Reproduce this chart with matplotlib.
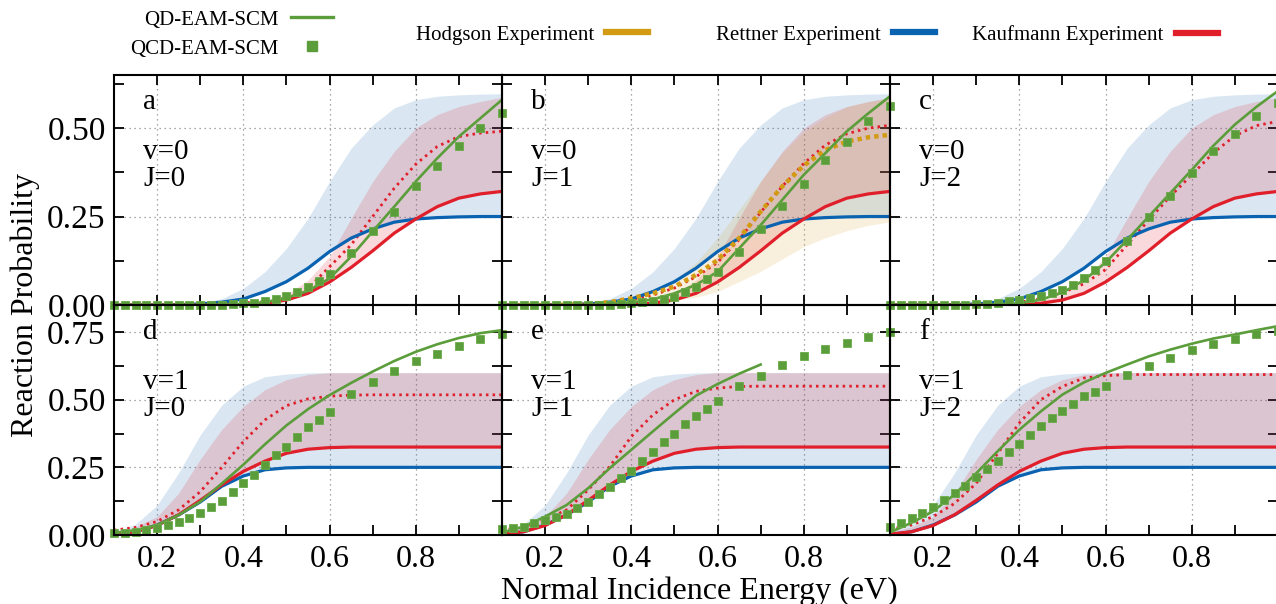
import numpy as np
import matplotlib.pyplot as plt
from matplotlib.lines import Line2D

plt.rcParams['font.family'] = 'Liberation Serif'

# incidence energies (eV) for the smooth curves and for the QCD points
E = [0.10, 0.15, 0.20, 0.25, 0.30, 0.35, 0.40, 0.45, 0.50, 0.55,
     0.60, 0.65, 0.70, 0.75, 0.80, 0.85, 0.90, 0.95, 1.00]
EQ = [0.100, 0.125, 0.150, 0.175, 0.200, 0.225, 0.250, 0.275, 0.300, 0.325,
      0.350, 0.375, 0.400, 0.425, 0.450, 0.475, 0.500, 0.525, 0.550, 0.575,
      0.600, 0.65, 0.70, 0.75, 0.80, 0.85, 0.90, 0.95, 1.00]

# experimental fits, v=0
rettner_v0 = [0, 0, 0, 0.001, 0.003, 0.008, 0.017, 0.038, 0.066, 0.104,
              0.151, 0.189, 0.215, 0.234, 0.243, 0.247, 0.249, 0.25, 0.25]
rettner_v0_hi = [0, 0, 0, 0.001, 0.005, 0.018, 0.047, 0.094, 0.16, 0.245,
                 0.349, 0.443, 0.509, 0.557, 0.58, 0.59, 0.594, 0.596, 0.597]
kaufmann_v0 = [0, 0, 0, 0, 0, 0, 0.001, 0.005, 0.014, 0.033,
               0.065, 0.106, 0.153, 0.203, 0.243, 0.278, 0.302, 0.314, 0.321]
kaufmann_v0_hi = [0, 0, 0, 0, 0, 0.001, 0.004, 0.012, 0.03, 0.07,
                  0.137, 0.245, 0.349, 0.434, 0.5, 0.538, 0.561, 0.575, 0.587]
hodgson_b = [0, 0, 0, 0.001, 0.003, 0.008, 0.019, 0.033, 0.052, 0.085,
             0.127, 0.189, 0.264, 0.335, 0.394, 0.438, 0.462, 0.474, 0.481]
hodgson_b_lo = [0, 0, 0, 0, 0.001, 0.002, 0.003, 0.007, 0.013, 0.022,
                0.038, 0.066, 0.095, 0.13, 0.165, 0.19, 0.21, 0.225, 0.235]
hodgson_b_hi = [0, 0, 0, 0.002, 0.005, 0.01, 0.02, 0.04, 0.07, 0.12,
                0.19, 0.27, 0.35, 0.43, 0.49, 0.53, 0.56, 0.575, 0.585]

# experimental fits, v=1
rettner_v1 = [0.002, 0.012, 0.037, 0.074, 0.122, 0.18, 0.218, 0.241, 0.248, 0.25,
              0.25, 0.25, 0.25, 0.25, 0.25, 0.25, 0.25, 0.25, 0.25]
rettner_v1_hi = [0.01, 0.04, 0.11, 0.23, 0.37, 0.48, 0.55, 0.585, 0.595, 0.599,
                 0.6, 0.6, 0.6, 0.6, 0.6, 0.6, 0.6, 0.6, 0.6]
kaufmann_v1 = [0.003, 0.012, 0.035, 0.075, 0.128, 0.185, 0.235, 0.273, 0.302, 0.317,
               0.323, 0.325, 0.325, 0.325, 0.325, 0.325, 0.325, 0.325, 0.325]
kaufmann_v1_hi = [0.01, 0.03, 0.068, 0.155, 0.28, 0.39, 0.475, 0.537, 0.574, 0.593,
                  0.6, 0.6, 0.6, 0.6, 0.6, 0.6, 0.6, 0.6, 0.6]

# Kaufmann state-resolved (dotted)
kdot_a = [0, 0, 0, 0, 0, 0.002, 0.006, 0.01, 0.019, 0.047,
          0.108, 0.17, 0.25, 0.33, 0.398, 0.448, 0.476, 0.486, 0.491]
kdot_b = [0, 0, 0, 0.001, 0.003, 0.007, 0.015, 0.028, 0.048, 0.08,
          0.12, 0.185, 0.262, 0.335, 0.4, 0.452, 0.484, 0.5, 0.508]
kdot_c = [0, 0, 0, 0, 0.001, 0.003, 0.008, 0.018, 0.035, 0.06,
          0.1, 0.17, 0.24, 0.307, 0.368, 0.43, 0.478, 0.507, 0.519]
kdot_d = [0.018, 0.028, 0.05, 0.093, 0.16, 0.25, 0.345, 0.425, 0.478, 0.503,
          0.513, 0.517, 0.518, 0.518, 0.518, 0.518, 0.518, 0.518, 0.518]
kdot_e = [0.018, 0.03, 0.056, 0.093, 0.167, 0.253, 0.364, 0.444, 0.5, 0.531,
          0.543, 0.549, 0.55, 0.55, 0.55, 0.55, 0.55, 0.55, 0.55]
kdot_f = [0.021, 0.037, 0.068, 0.117, 0.191, 0.302, 0.414, 0.5, 0.549, 0.58,
          0.589, 0.593, 0.593, 0.593, 0.593, 0.593, 0.593, 0.593, 0.593]

# QD-EAM-SCM (lines)
qd_a = [0, 0, 0, 0, 0, 0.001, 0.003, 0.008, 0.02, 0.04,
        0.075, 0.137, 0.208, 0.278, 0.349, 0.415, 0.476, 0.528, 0.58]
qd_b = [0, 0, 0, 0, 0, 0.002, 0.007, 0.016, 0.033, 0.057,
        0.094, 0.16, 0.226, 0.297, 0.368, 0.429, 0.491, 0.542, 0.59]
qd_c = [0, 0, 0, 0, 0, 0.002, 0.005, 0.015, 0.035, 0.07,
        0.12, 0.184, 0.25, 0.316, 0.382, 0.45, 0.51, 0.56, 0.605]
qd_d = [0.008, 0.017, 0.037, 0.074, 0.123, 0.19, 0.26, 0.335, 0.405, 0.465,
        0.517, 0.562, 0.604, 0.643, 0.677, 0.705, 0.728, 0.746, 0.757]
qd_e = [0.009, 0.031, 0.068, 0.111, 0.173, 0.247, 0.315, 0.383, 0.45, 0.515,
        0.558, 0.596, 0.63]
qd_f = [0.01, 0.045, 0.088, 0.15, 0.228, 0.31, 0.389, 0.457, 0.519, 0.564,
        0.599, 0.63, 0.66, 0.685, 0.707, 0.726, 0.741, 0.757, 0.772]

# QCD-EAM-SCM (points)
qcd_a = [0, 0, 0, 0, 0, 0, 0, 0, 0, 0,
         0, 0.003, 0.005, 0.007, 0.011, 0.017, 0.026, 0.038, 0.051, 0.069,
         0.087, 0.146, 0.208, 0.264, 0.335, 0.394, 0.45, 0.5, 0.542]
qcd_b = [0, 0, 0, 0, 0, 0, 0, 0, 0, 0,
         0, 0.003, 0.005, 0.008, 0.012, 0.017, 0.024, 0.036, 0.052, 0.074,
         0.094, 0.151, 0.215, 0.28, 0.342, 0.41, 0.462, 0.519, 0.563]
qcd_c = [0, 0, 0, 0, 0, 0, 0, 0.001, 0.002, 0.004,
         0.007, 0.01, 0.014, 0.019, 0.025, 0.033, 0.042, 0.057, 0.075, 0.099,
         0.123, 0.181, 0.25, 0.308, 0.373, 0.434, 0.484, 0.533, 0.571]
qcd_d = [0.006, 0.008, 0.01, 0.019, 0.027, 0.037, 0.049, 0.062, 0.083, 0.105,
         0.127, 0.16, 0.191, 0.22, 0.259, 0.294, 0.327, 0.362, 0.398, 0.426,
         0.453, 0.521, 0.564, 0.605, 0.644, 0.669, 0.7, 0.725, 0.741]
qcd_e = [0.021, 0.025, 0.031, 0.043, 0.056, 0.065, 0.078, 0.099, 0.123, 0.151,
         0.179, 0.21, 0.235, 0.272, 0.306, 0.342, 0.374, 0.41, 0.438, 0.467,
         0.496, 0.549, 0.589, 0.63, 0.66, 0.689, 0.709, 0.732, 0.749]
qcd_f = [0.028, 0.043, 0.062, 0.08, 0.102, 0.13, 0.154, 0.181, 0.214, 0.244,
         0.275, 0.305, 0.337, 0.37, 0.401, 0.432, 0.46, 0.485, 0.512, 0.53,
         0.552, 0.593, 0.623, 0.654, 0.683, 0.707, 0.723, 0.741, 0.753]

letters = ['a', 'b', 'c', 'd', 'e', 'f']
states = ['v=0\nJ=0', 'v=0\nJ=1', 'v=0\nJ=2', 'v=1\nJ=0', 'v=1\nJ=1', 'v=1\nJ=2']
qd_all = [qd_a, qd_b, qd_c, qd_d, qd_e, qd_f]
qcd_all = [qcd_a, qcd_b, qcd_c, qcd_d, qcd_e, qcd_f]
kdot_all = [kdot_a, kdot_b, kdot_c, kdot_d, kdot_e, kdot_f]

GREEN = '#5b9d3a'
BLUE = '#0a63b1'
RED = '#e01f2b'
GOLD = '#d29b12'

W, H = 1276, 604
fig = plt.figure(figsize=(W / 100, H / 100), dpi=100)


def box(x, y, w, h):
    return [x / W, 1 - (y + h) / H, w / W, h / H]


for i in range(6):
    row, col = divmod(i, 3)
    ax = fig.add_axes(box(114 + 388 * col, 75 + 230 * row, 388, 230))
    ax.set_facecolor('none')
    ax.set_axisbelow(True)
    if row == 0:
        ret, ret_hi, kau, kau_hi = rettner_v0, rettner_v0_hi, kaufmann_v0, kaufmann_v0_hi
    else:
        ret, ret_hi, kau, kau_hi = rettner_v1, rettner_v1_hi, kaufmann_v1, kaufmann_v1_hi

    # uncertainty bands
    ax.fill_between(E, ret, ret_hi, color=BLUE, alpha=0.15, lw=0, zorder=1)
    ax.fill_between(E, kau, kau_hi, color=RED, alpha=0.17, lw=0, zorder=1.1)
    if i == 1:
        ax.fill_between(E, hodgson_b_lo, hodgson_b_hi, color=GOLD, alpha=0.14, lw=0, zorder=1.2)

    ax.plot(E, kdot_all[i], color=RED, lw=2, ls=(0, (0.9, 1.5)), zorder=2.0)
    ax.plot(E, ret, color=BLUE, lw=2.3, zorder=2.05)
    ax.plot(E, kau, color=RED, lw=2.3, zorder=2.05)
    if i == 1:
        ax.plot(E, hodgson_b, color=GOLD, lw=3.2, ls=(0, (1, 0.9)),
                dash_capstyle='butt', zorder=2.1)
    ax.plot(E[:len(qd_all[i])], qd_all[i], color=GREEN, lw=1.9, zorder=2.15)
    ax.plot(EQ, qcd_all[i], 's', color=GREEN, ms=6, mec='#6aab48', mew=0.6,
            clip_on=False, zorder=2.2)

    ax.set_xlim(0.1, 1.0)
    ax.set_xticks([0.2, 0.4, 0.6, 0.8])
    ax.set_xticks([0.1, 0.3, 0.5, 0.7, 0.9, 1.0], minor=True)
    if row == 0:
        ax.set_ylim(0, 0.65)
        ax.set_yticks([0, 0.25, 0.5])
    else:
        ax.set_ylim(0, 0.85)
        ax.set_yticks([0, 0.25, 0.5, 0.75])
    ax.set_yticks([0.125, 0.375, 0.625], minor=True)
    ax.tick_params(which='both', direction='in', top=True, right=True,
                   length=7, width=1.3, labelsize=24, pad=6)
    ax.tick_params(axis='x', labelsize=23, pad=7)
    if row == 0:
        ax.tick_params(axis='x', labelbottom=False)
    if col != 0:
        ax.tick_params(axis='y', labelleft=False)
    ax.yaxis.set_major_formatter(plt.FormatStrFormatter('%.2f'))
    ax.grid(True, which='major', ls=(0, (1, 3)), color='#8c8c8c', lw=0.9)
    for s in ax.spines.values():
        s.set_linewidth(1.5)
        s.set_zorder(3)

    ax.text(0.075, 0.883, letters[i], transform=ax.transAxes, fontsize=21,
            va='center', ha='left')
    ax.text(0.075, 0.605, states[i], transform=ax.transAxes, fontsize=21,
            va='center', ha='left', linespacing=1.05)

fig.text(25 / W, 1 - 305 / H, 'Reaction Probability', rotation=90,
         ha='center', va='center', fontsize=23)
fig.text(699 / W, 1 - 591 / H, 'Normal Incidence Energy (eV)',
         ha='center', va='center', fontsize=23)

# legends
model_keys = [Line2D([], [], color=GREEN, lw=2.4),
              Line2D([], [], color=GREEN, marker='s', ls='none', ms=7)]
fig.legend(model_keys, ['QD-EAM-SCM', 'QCD-EAM-SCM'], loc='upper right',
           bbox_to_anchor=(333 / W, 1 - 10 / H), frameon=False, markerfirst=False,
           fontsize=15, handlelength=2.0, handletextpad=0.6, labelspacing=0.45,
           borderpad=0, borderaxespad=0)
for name, c, xr in [('Hodgson Experiment', GOLD, 648),
                    ('Rettner Experiment', BLUE, 935),
                    ('Kaufmann Experiment', RED, 1218)]:
    fig.legend([Line2D([], [], color=c, lw=4.5)], [name], loc='center right',
               bbox_to_anchor=(xr / W, 1 - 35 / H), frameon=False,
               markerfirst=False, fontsize=15, handlelength=2.0,
               handletextpad=0.6, borderpad=0, borderaxespad=0)

fig.savefig('out.png', dpi=100)
